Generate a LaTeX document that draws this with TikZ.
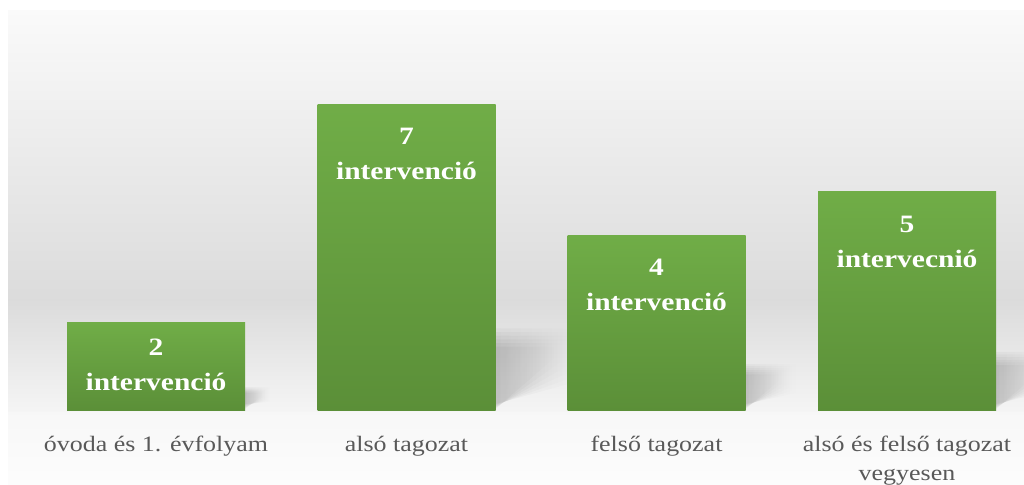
\documentclass[tikz,border=0pt]{standalone}
\usepackage{fontspec}
\setmainfont{Liberation Serif}[FakeStretch=1.18]
\usetikzlibrary{fadings}
\definecolor{bargreen}{RGB}{112,173,71}
\definecolor{bardark}{RGB}{91,143,56}
\definecolor{labelgray}{RGB}{89,89,89}

\begin{document}
\begin{tikzpicture}[x=1pt,y=-1pt]
\tikzset{bar/.style={draw=none,top color=bargreen,bottom color=bardark,minimum width=178pt,inner sep=0pt,anchor=south}}
\tikzset{value/.style={text=white,font=\fontsize{25}{35}\selectfont\bfseries,align=center,inner sep=0pt,anchor=north}}
\tikzset{category/.style={text=labelgray,font=\fontsize{22}{29}\selectfont,align=center,inner sep=0pt,anchor=north}}
\tikzset{floorshadow/.style={fill=black,fill opacity=.035,path fading=east}}

\useasboundingbox (0,0) rectangle (1024,484);

% background
\fill[white] (0,0) rectangle (1024,484);
\shade[top color=black!2,bottom color=black!14] (8,11) rectangle (1024,300);
\shade[top color=black!14,bottom color=black!4] (8,300) rectangle (1024,412);
\shade[top color=black!3,bottom color=black!1] (8,412) rectangle (1024,484);

% shadows, soft by stacking
\foreach \xc/\h in {156/88,406.5/306,656.5/175,907/219}
\foreach \k in {0,...,5}
{
\fill[floorshadow] ({\xc+89},{409-\k}) -- ({\xc+89},{411-(0.21+0.012*\k)*\h}) -- ({\xc+89+(0.2+0.02*\k)*\h},{411-(0.21+0.012*\k)*\h}) -- ({\xc+89+(0.2+0.02*\k)*\h},{411-(0.18-0.015*\k)*\h}) -- cycle;
}

% bars
\foreach \i/\xc/\h/\n/\off/\t in {1/156/88/2/16/intervenció,2/406.5/306/7/23/intervenció,3/656.5/175/4/23/intervenció,4/907/219/5/24/intervecnió}
{
\node[bar,minimum height={\h*1pt}] (bar\i) at (\xc,411) {};
\node[value] (val\i) at ([yshift=-\off pt]bar\i.north) {\n\\\t};
}

% categories
\node[category] (cat1) at (156,436) {óvoda és 1. évfolyam};
\node[category] (cat2) at (406.5,436) {alsó tagozat};
\node[category] (cat3) at (656.5,436) {felső tagozat};
\node[category] (cat4) at (907,436) {alsó és felső tagozat\\vegyesen};

\end{tikzpicture}
\end{document}
